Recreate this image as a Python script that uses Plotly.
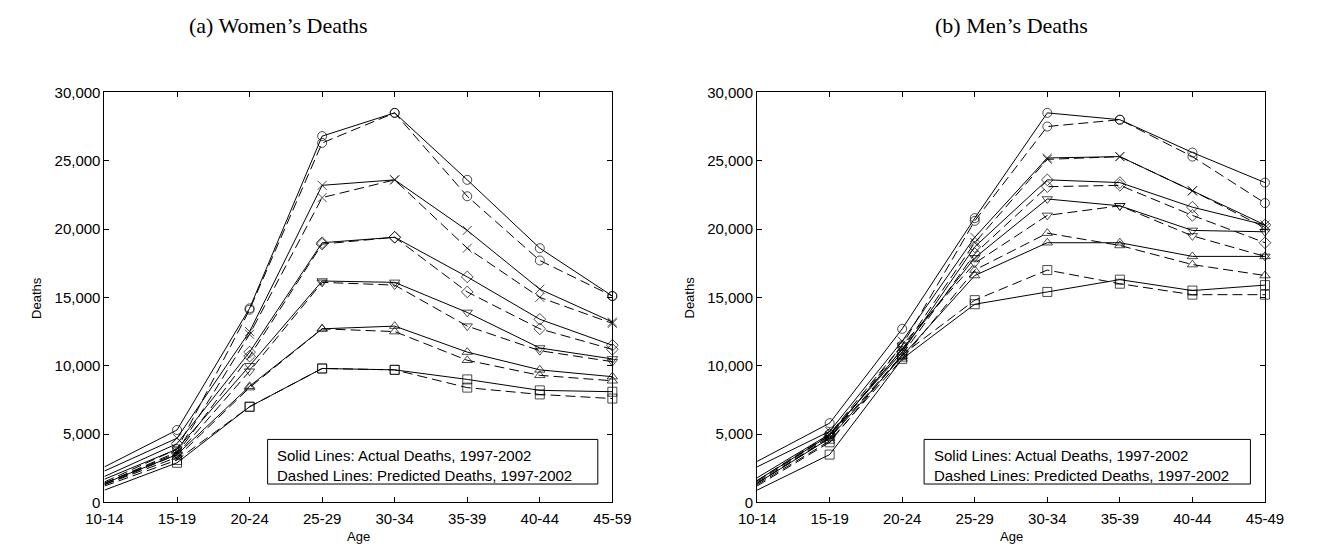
import plotly.graph_objects as go

W, H = 1317, 556

AGES_W = ["10-14", "15-19", "20-24", "25-29", "30-34", "35-39", "40-44", "45-59"]
AGES_M = ["10-14", "15-19", "20-24", "25-29", "30-34", "35-39", "40-44", "45-49"]
Y_TICKS = [0, 5000, 10000, 15000, 20000, 25000, 30000]

SYMBOLS = ["circle-open", "x-thin-open", "diamond-open", "triangle-down-open", "triangle-up-open", "square-open"]

# Women's deaths, actual (solid) and predicted (dashed), one row per marker
W_ACTUAL = [
    [2600, 5300, 14200, 26800, 28500, 23600, 18600, 15100],
    [2300, 4700, 12500, 23200, 23600, 19900, 15600, 13200],
    [1900, 4300, 11000, 19000, 19400, 16500, 13400, 11500],
    [1700, 3900, 10000, 16200, 16100, 13900, 11300, 10500],
    [1400, 3500, 8500, 12700, 12900, 11000, 9700, 9200],
    [900, 2900, 7000, 9800, 9700, 9000, 8200, 8100],
]
W_PRED = [
    [1500, 3900, 14100, 26300, 28500, 22400, 17700, 15100],
    [1400, 3700, 12300, 22300, 23600, 18600, 15000, 13100],
    [1400, 3600, 10700, 18900, 19400, 15400, 12700, 11200],
    [1300, 3500, 9600, 16100, 15900, 12900, 11100, 10300],
    [1300, 3300, 8400, 12700, 12500, 10400, 9300, 8900],
    [1200, 3100, 7000, 9800, 9700, 8400, 7900, 7600],
]
# Men's deaths
M_ACTUAL = [
    [3000, 5800, 12700, 20800, 28500, 28000, 25600, 23400],
    [2600, 5200, 11800, 19400, 25200, 25300, 22800, 20300],
    [1800, 5000, 11000, 18700, 23600, 23400, 21600, 20300],
    [1600, 4900, 11200, 17900, 22200, 21700, 19900, 19800],
    [1400, 4700, 10700, 16600, 19000, 19000, 18000, 18000],
    [900, 3500, 10500, 14500, 15400, 16300, 15500, 15900],
]
M_PRED = [
    [1600, 5000, 11500, 20600, 27500, 28000, 25300, 21900],
    [1500, 4900, 11200, 19000, 25100, 25300, 22800, 20100],
    [1400, 4800, 10800, 18200, 23100, 23200, 21000, 19000],
    [1400, 4700, 11500, 17500, 21000, 21700, 19500, 18000],
    [1300, 4500, 10500, 17000, 19700, 18800, 17400, 16600],
    [1200, 4400, 10800, 14800, 17000, 16000, 15200, 15200],
]

LEGEND_LINES = ["Solid Lines: Actual Deaths, 1997-2002", "Dashed Lines: Predicted Deaths, 1997-2002"]


def px(x):
    return x / W


def py(y):
    return 1 - y / H


fig = go.Figure()

panels = [
    ("x", "y", AGES_W, W_ACTUAL, W_PRED),
    ("x2", "y2", AGES_M, M_ACTUAL, M_PRED),
]

for xa, ya, ages, act, pred in panels:
    xs = list(range(len(ages)))
    for sym, a, p in zip(SYMBOLS, act, pred):
        sizes = [0] + [9] * (len(ages) - 1)
        for vals, dash in ((a, "solid"), (p, "10px,5px")):
            fig.add_trace(go.Scatter(
                x=xs, y=vals, xaxis=xa, yaxis=ya, mode="lines+markers",
                line=dict(color="black", width=1, dash=dash),
                marker=dict(symbol=sym, size=sizes, color="black",
                            line=dict(color="black", width=1)),
                cliponaxis=False, showlegend=False, hoverinfo="skip",
            ))

font_ticks = dict(family="Liberation Sans, Arial, sans-serif", size=15, color="black")

def xaxis(domain, ages):
    return dict(domain=domain, range=[0, len(ages) - 1], tickmode="array",
                tickvals=list(range(len(ages))), ticktext=ages,
                ticks="inside", ticklen=5, tickcolor="black", mirror="allticks",
                showline=True, linecolor="black", linewidth=1, showgrid=False,
                zeroline=False, tickfont=font_ticks, ticklabelstandoff=3)

def yaxis(anchor):
    return dict(domain=[py(509), py(86)], range=[0, 30000], tickmode="array",
                tickvals=Y_TICKS, ticktext=[f"{v:,}" for v in Y_TICKS],
                ticks="inside", ticklen=5, tickcolor="black", mirror="allticks",
                showline=True, linecolor="black", linewidth=1, showgrid=False,
                zeroline=False, tickfont=font_ticks, anchor=anchor)

fig.update_layout(
    width=W, height=H, autosize=False,
    margin=dict(l=0, r=0, t=0, b=0),
    paper_bgcolor="white", plot_bgcolor="white",
    xaxis=dict(**xaxis([px(88), px(611)], AGES_W), anchor="y"),
    yaxis=yaxis("x"),
    xaxis2=dict(**xaxis([px(760), px(1283)], AGES_M), anchor="y2"),
    yaxis2=yaxis("x2"),
)

annotations = []
shapes = []
label_font = dict(family="Liberation Sans, Arial, sans-serif", size=13, color="black")
title_font = dict(family="Liberation Serif, Times New Roman, serif", size=22, color="black")

for title, tx in (("(a) Women’s Deaths", 267), ("(b) Men’s Deaths", 1022)):
    annotations.append(dict(text=title, x=px(tx), y=py(17), xref="paper", yref="paper",
                            xanchor="center", yanchor="middle", showarrow=False, font=title_font))

for ax_left, ax_right in ((88, 611), (760, 1283)):
    annotations.append(dict(text="Deaths", x=px(ax_left - 70), y=py(297.5), xref="paper", yref="paper",
                            xanchor="center", yanchor="middle", textangle=-90, showarrow=False,
                            font=label_font))
    annotations.append(dict(text="Age", x=px((ax_left + ax_right) / 2), y=py(544), xref="paper",
                            yref="paper", xanchor="center", yanchor="middle", showarrow=False,
                            font=label_font))

for bx0, bx1 in ((256, 596), (932, 1268)):
    shapes.append(dict(type="rect", xref="paper", yref="paper", x0=px(bx0), x1=px(bx1),
                       y0=py(490), y1=py(444), line=dict(color="black", width=1),
                       fillcolor="white", layer="above"))
    for i, line in enumerate(LEGEND_LINES):
        annotations.append(dict(text=line, x=px(bx0 + 8), y=py(461 + 20 * i), xref="paper",
                                yref="paper", xanchor="left", yanchor="middle", showarrow=False,
                                font=dict(family="Liberation Sans, Arial, sans-serif", size=15,
                                          color="black")))

fig.update_layout(annotations=annotations, shapes=shapes)
fig.write_html(
    "out.html",
    config={"displayModeBar": False},
    post_script="document.body.style.margin='0';document.documentElement.style.overflow='hidden';",
)
